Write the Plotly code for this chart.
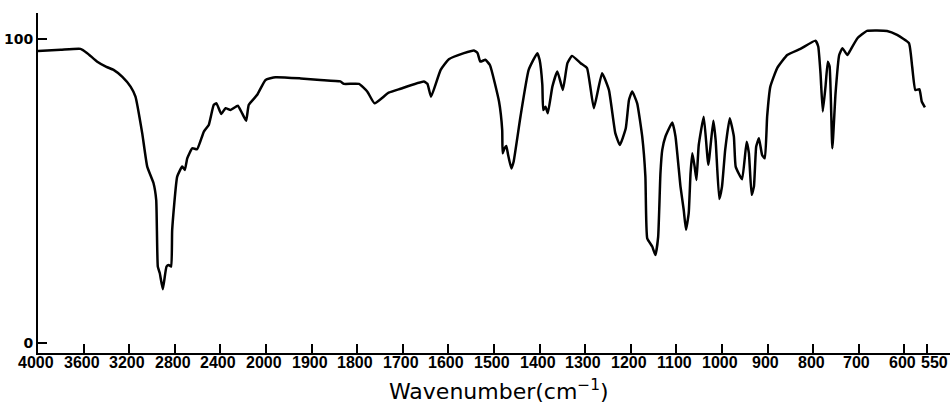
import plotly.graph_objects as go

# IR spectrum data (wavenumber cm^-1, transmittance %)
wavenumber = [4000, 3800, 3627, 3568, 3480, 3400, 3337, 3260, 3188, 3145, 3086, 3042, 2987, 2963,
              2949, 2932, 2905, 2873, 2853, 2832, 2823, 2779, 2735, 2712, 2691, 2647, 2604, 2545,
              2502, 2458, 2434, 2393, 2355, 2311, 2247, 2209, 2174, 2151, 2077, 2004, 1979, 1924,
              1881, 1837, 1829, 1796, 1778, 1762, 1731, 1705, 1654, 1646, 1638, 1617, 1599, 1566,
              1544, 1536, 1530, 1519, 1509, 1489, 1482, 1481, 1477, 1473, 1469, 1462, 1457, 1442,
              1424, 1405, 1400, 1394, 1392, 1387, 1382, 1372, 1361, 1349, 1339, 1329, 1310, 1296,
              1281, 1263, 1248, 1234, 1224, 1211, 1204, 1197, 1186, 1175, 1168, 1164, 1153, 1146,
              1140, 1135, 1131, 1124, 1109, 1102, 1091, 1084, 1079, 1073, 1069, 1065, 1060, 1056,
              1051, 1040, 1030, 1019, 1014, 1006, 1000, 993, 983, 974, 970, 956, 946, 941, 935,
              930, 925, 919, 912, 906, 901, 894, 879, 857, 828, 795, 789, 784, 779, 773, 768, 764,
              758, 751, 743, 736, 725, 718, 703, 682, 638, 616, 590, 583, 576, 567, 562, 555]
transmittance = [96.0, 96.4, 96.7, 95.3, 92.5, 90.8, 89.8, 87.5, 84.3, 81.0, 69.0, 58.0, 52.6, 47.0,
                 25.1, 23.0, 17.7, 25.1, 25.6, 25.1, 37.2, 54.7, 58.0, 56.9, 60.7, 64.0, 63.7, 69.5,
                 71.7, 78.3, 78.8, 75.3, 77.2, 76.6, 78.0, 75.5, 73.1, 78.3, 81.6, 86.5, 87.4, 87.0,
                 86.5, 86.0, 85.2, 85.2, 82.7, 78.8, 82.3, 83.6, 86.0, 85.2, 81.0, 89.8, 93.3, 95.3,
                 96.2, 95.3, 92.5, 93.1, 91.4, 79.4, 70.0, 62.4, 64.0, 64.8, 61.8, 57.4, 59.6, 74.4,
                 89.8, 95.3, 93.1, 84.9, 76.6, 77.7, 75.5, 84.3, 89.3, 83.2, 92.0, 94.4, 92.0, 90.4,
                 77.2, 88.7, 83.2, 69.0, 65.1, 70.6, 79.9, 82.7, 78.8, 67.9, 54.7, 34.4, 31.7, 28.9,
                 34.9, 55.8, 63.5, 67.9, 72.5, 67.9, 51.4, 43.8, 37.2, 42.7, 55.8, 62.4, 58.0, 53.6,
                 65.1, 74.4, 58.6, 73.1, 66.8, 47.3, 51.4, 63.5, 73.9, 67.9, 58.0, 53.8, 66.2, 62.4, 48.7,
                 51.4, 64.6, 67.3, 61.8, 60.7, 74.4, 84.3, 90.4, 94.7, 96.7, 99.4, 97.5, 88.7, 76.1, 84.3, 92.5, 90.9,
                 64.0, 82.1, 94.7, 96.9, 94.7, 96.4, 100.2, 102.6, 102.6, 101.3, 98.6, 90.9, 83.2, 83.4, 79.4, 77.5]

x_tick_values = [4000, 3600, 3200, 2800, 2400, 2000, 1900, 1800, 1700, 1600, 1500, 1400, 1300,
                 1200, 1100, 1000, 900, 800, 700, 600, 550]
x_tick_labels = ["4000", "3600", "3200", "2800", "2400", "2000", "1900", "1800", "1700", "1600",
                 "1500", "1400", "1300", "1200", "1100", "1000", "900", "800", "700", "600", "550"]
y_tick_values = [0, 100]
y_tick_labels = ["0", "100"]
x_title = "Wavenumber(cm<sup>−1</sup>)"


def to_axis(wn):
    # chart-paper scale: 400 cm-1 per division above 2000, 100 cm-1 per division below
    if wn >= 2000:
        return (4000 - wn) / 400.0
    return 5.0 + (2000 - wn) / 100.0


xs = [to_axis(w) for w in wavenumber]
tick_pos = [to_axis(w) for w in x_tick_values]

fig = go.Figure()
fig.add_trace(go.Scatter(x=xs, y=transmittance, mode="lines",
                         line=dict(color="black", width=2.5, shape="spline", smoothing=0.4),
                         hoverinfo="skip", showlegend=False))

fig.update_layout(
    width=951, height=410,
    margin=dict(l=38, r=1, t=13, b=57),
    plot_bgcolor="white", paper_bgcolor="white",
    xaxis=dict(range=[0, 20], tickmode="array", tickvals=tick_pos, showticklabels=False,
               ticks="inside", ticklen=9, tickwidth=2, tickcolor="black",
               showline=True, linewidth=2, linecolor="black", showgrid=False, zeroline=False,
               automargin=False),
    yaxis=dict(range=[-3.3, 108.5], tickmode="array", tickvals=y_tick_values,
               ticktext=y_tick_labels, ticks="inside", ticklen=9, tickwidth=2,
               tickcolor="black", showline=True, linewidth=2, linecolor="black",
               showgrid=False, zeroline=False, automargin=False, ticklabelstandoff=0,
               tickfont=dict(family="DejaVu Sans", size=14, color="black", weight="bold")),
)

tick_font = dict(family="Liberation Sans", size=16, color="black", weight="bold")
for pos, lab in zip(tick_pos, x_tick_labels):
    fig.add_annotation(x=pos, y=0, xref="x", yref="paper", yanchor="top", xanchor="center",
                       xshift=7 if lab == "550" else -2, yshift=1, showarrow=False,
                       text=lab, font=tick_font)

fig.add_annotation(x=0.5, y=-0.109, xref="paper", yref="paper", xanchor="center",
                   yanchor="middle", xshift=5, showarrow=False, text=x_title,
                   font=dict(family="DejaVu Sans", size=22, color="black"))

fig.write_html("out.html", config={"displayModeBar": False},
               post_script="document.body.style.margin='0px';document.body.style.overflow='hidden';")
